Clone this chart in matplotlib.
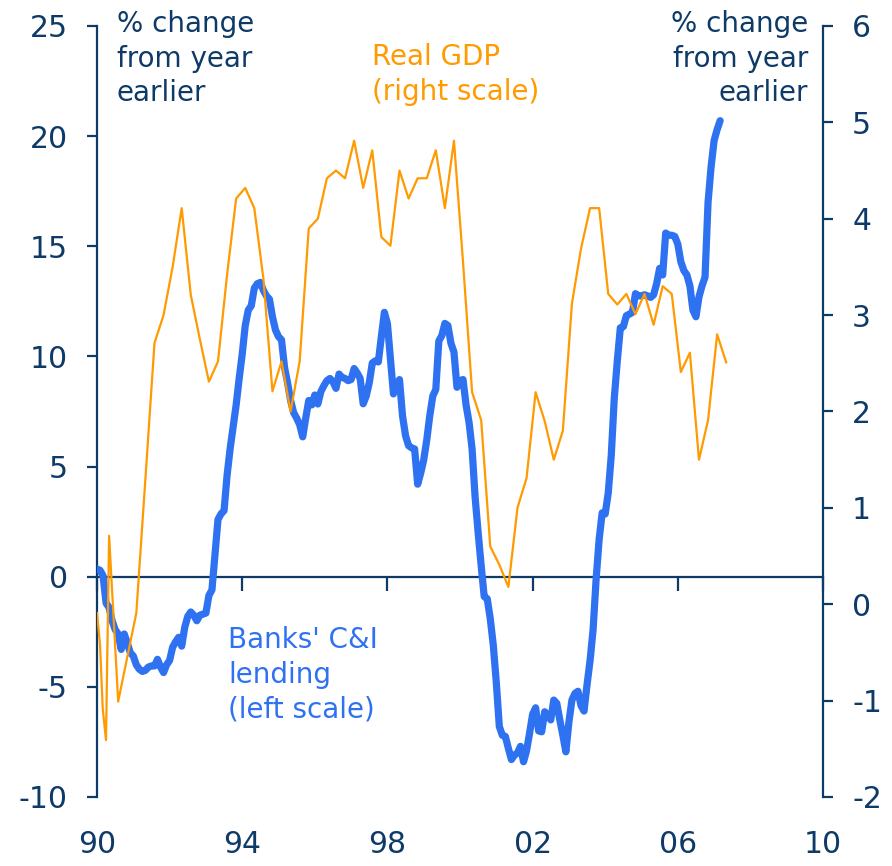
import matplotlib
matplotlib.use("Agg")
import matplotlib.pyplot as plt
import numpy as np

# colours
navy = '#0E3A68'
blue = '#2E72F2'
orange = '#FF9A00'

# Banks' C&I lending, % change from year earlier, monthly from Jan 1990 (left scale)
lending = [
    0.35, 0.29, 0.05, -1.2, -1.4, -2.0, -2.4, -2.6, -3.3, -2.6, -3.0, -3.45,
    -3.6, -4.0, -4.2, -4.3, -4.25, -4.1, -4.05, -4.05, -3.75, -4.1, -4.35, -4.0,
    -3.8, -3.2, -2.95, -2.75, -3.15, -2.3, -1.8, -1.6, -1.75, -2.0, -1.75, -1.7,
    -1.65, -0.85, -0.6, 1.0, 2.6, 2.85, 3.0, 4.6, 5.8, 6.8, 7.8, 9.0,
    10.1, 11.4, 12.1, 12.3, 13.1, 13.3, 13.36, 13.0, 12.75, 12.6, 11.8, 11.2,
    10.9, 10.75, 9.5, 8.8, 8.0, 7.45, 7.2, 6.9, 6.35, 7.2, 8.0, 7.8,
    8.25, 7.84, 8.4, 8.67, 8.9, 9.0, 8.85, 8.55, 9.2, 9.05, 9.0, 8.9,
    8.95, 9.45, 9.25, 9.0, 7.85, 8.2, 8.8, 9.7, 9.8, 9.75, 10.9, 12.0,
    11.5, 9.9, 8.3, 8.7, 8.95, 7.3, 6.4, 5.95, 5.85, 5.8, 4.2, 4.7,
    5.3, 6.2, 7.3, 8.2, 8.5, 10.7, 10.95, 11.5, 11.4, 10.6, 10.2, 8.6,
    8.9, 8.95, 7.8, 7.0, 5.8, 3.6, 2.0, 0.5, -0.9, -1.0, -1.9, -3.1,
    -4.8, -6.8, -7.2, -7.25, -7.8, -8.3, -8.1, -8.0, -7.7, -8.4, -7.9, -7.1,
    -6.25, -5.95, -7.0, -7.04, -6.13, -6.3, -6.5, -5.6, -5.75, -6.5, -7.2, -7.95,
    -6.6, -5.6, -5.3, -5.2, -5.85, -6.1, -4.9, -3.8, -2.4, -0.1, 1.7, 2.9,
    2.85, 3.8, 5.5, 8.1, 9.8, 11.3, 11.35, 11.85, 11.92, 12.0, 12.85, 12.75,
    12.75, 12.8, 12.75, 12.68, 12.8, 13.3, 14.0, 13.7, 15.6, 15.5, 15.5, 15.45,
    15.1, 14.3, 13.9, 13.7, 13.2, 12.1, 11.8, 12.7, 13.2, 13.6, 17.0, 18.6,
    19.8, 20.3, 20.7,
]
lending_dates = 1990 + np.arange(len(lending)) / 12

# Real GDP, % change from year earlier, quarterly from 1990 Q1 (right scale)
gdp = [
    -0.42, 0.71, -1.01, -0.55, -0.09, 1.3, 2.71, 3.0, 3.5, 4.11,
    3.21, 2.75, 2.31, 2.52, 3.42, 4.21, 4.32, 4.11, 3.38, 2.21,
    2.52, 2.0, 2.52, 3.9, 4.0, 4.42, 4.5, 4.42, 4.81, 4.32,
    4.71, 3.81, 3.72, 4.5, 4.21, 4.42, 4.42, 4.71, 4.11, 4.81,
    3.55, 2.2, 1.91, 0.6, 0.41, 0.18, 1.0, 1.31, 2.2, 1.9,
    1.5, 1.8, 3.12, 3.69, 4.11, 4.11, 3.22, 3.11, 3.22, 3.01,
    3.22, 2.9, 3.3, 3.22, 2.41, 2.61, 1.5, 1.91, 2.8, 2.51,
]
gdp_dates = 1990 + np.arange(len(gdp)) / 4 + 1 / 12
# extra early readings shown at the start of the GDP line
gdp_early_dates = [1990.0, 1990.157, 1990.248]
gdp_early = [-0.09, -1.08, -1.41]

gdp_x = np.concatenate([gdp_early_dates, gdp_dates])
gdp_y = np.concatenate([gdp_early, gdp])
order = np.argsort(gdp_x)
gdp_x, gdp_y = gdp_x[order], gdp_y[order]

year_ticks = [1990, 1994, 1998, 2002, 2006, 2010]
year_labels = ['90', '94', '98', '02', '06', '10']
left_ticks = [-10, -5, 0, 5, 10, 15, 20, 25]
right_ticks = [-2, -1, 0, 1, 2, 3, 4, 5, 6]

plt.rcParams['font.family'] = ['DejaVu Sans']

W, H = 892, 866
fig = plt.figure(figsize=(W / 100, H / 100), dpi=100)
ax = fig.add_axes([97 / W, 69 / H, 726 / W, 771 / H])
ax2 = ax.twinx()

ax.plot(lending_dates, lending, color=blue, lw=5.2, solid_capstyle='round',
        solid_joinstyle='round', zorder=3)
ax2.plot(gdp_x, gdp_y, color=orange, lw=1.6, zorder=3)

ax.set_xlim(1990, 2010)
ax.set_ylim(-10, 25)
ax2.set_ylim(-2, 6)

# spines
for a in (ax, ax2):
    a.spines['top'].set_visible(False)
    a.patch.set_visible(False)
ax.spines['right'].set_visible(False)
ax2.spines['left'].set_visible(False)
ax2.spines['bottom'].set_visible(False)
ax.spines['left'].set_color(navy)
ax.spines['left'].set_linewidth(1.6)
ax2.spines['right'].set_color(navy)
ax2.spines['right'].set_linewidth(1.6)
ax.spines['bottom'].set_position(('data', 0))
ax.spines['bottom'].set_color(navy)
ax.spines['bottom'].set_linewidth(1.6)

ax.set_yticks(left_ticks)
ax.set_yticklabels([str(t) for t in left_ticks])
ax2.set_yticks(right_ticks)
ax2.set_yticklabels([str(t) for t in right_ticks])
ax.tick_params(axis='y', direction='out', length=7, width=1.6, color=navy,
               labelcolor=navy, labelsize=21.5, pad=14)
ax2.tick_params(axis='y', direction='out', length=7, width=1.6, color=navy,
                labelcolor=navy, labelsize=21.5, pad=14)

ax.set_xticks(year_ticks)
ax.tick_params(axis='x', direction='out', length=10, width=1.6, color=navy,
               labelbottom=False)

# year labels along the bottom of the plot
sec = ax.secondary_xaxis(location=0)
sec.set_xticks(year_ticks)
sec.set_xticklabels(year_labels)
sec.spines['bottom'].set_visible(False)
sec.tick_params(axis='x', length=0, labelsize=21.5, labelcolor=navy, pad=24)

# annotations
fig.text(117 / W, 1 - 10 / H, '% change\nfrom year\nearlier', color=navy,
         fontsize=20, ha='left', va='top', linespacing=1.3)
fig.text(808 / W, 1 - 10 / H, '% change\nfrom year\nearlier', color=navy,
         fontsize=20, ha='right', va='top', multialignment='right',
         linespacing=1.3)
fig.text(372 / W, 1 - 43 / H, 'Real GDP\n(right scale)', color=orange,
         fontsize=20, ha='left', va='top', linespacing=1.3)
fig.text(228 / W, 1 - 626 / H, "Banks' C&I\nlending\n(left scale)", color=blue,
         fontsize=20, ha='left', va='top', linespacing=1.3)

fig.savefig('out.png', dpi=100)
